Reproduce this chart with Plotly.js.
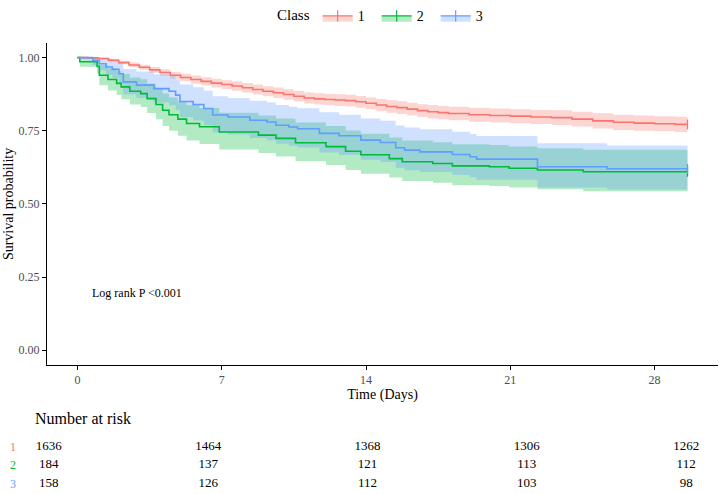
<!DOCTYPE html>
<html>
<head>
<meta charset="utf-8">
<script src="https://cdn.plot.ly/plotly-3.0.1.min.js"></script>
<style>html,body{margin:0;padding:0;background:#fff;}#chart{width:720px;height:494px;}</style>
</head>
<body>
<div id="chart"></div>
<script>
// ---- Data ----
const classNames = ['1', '2', '3'];
const colors = ['#F8766D', '#00BA38', '#619CFF'];
const fills = ['rgba(248,118,109,0.3)', 'rgba(0,186,56,0.3)', 'rgba(97,156,255,0.3)'];

// Class 1
const t1 = [0,0.5,1,1.5,2,2.5,3,3.5,4,4.5,5,5.5,6,6.5,7,7.5,8,8.5,9,9.5,10,10.5,11,11.5,12,12.5,13,13.5,14,14.5,15,15.5,16,16.5,17,17.5,18,19,20,21,22,23,24,25,26,27,28,29,29.6];
const s1 = [1.000,0.999,0.997,0.991,0.983,0.975,0.967,0.958,0.949,0.940,0.932,0.925,0.919,0.913,0.908,0.903,0.897,0.891,0.885,0.880,0.874,0.868,0.862,0.859,0.857,0.855,0.853,0.849,0.844,0.838,0.833,0.829,0.824,0.819,0.815,0.812,0.809,0.805,0.802,0.800,0.797,0.795,0.790,0.784,0.779,0.776,0.774,0.772,0.772];
const lo1 = [1.000,0.998,0.994,0.986,0.977,0.967,0.958,0.948,0.938,0.928,0.919,0.911,0.905,0.898,0.893,0.887,0.881,0.874,0.868,0.862,0.856,0.850,0.843,0.840,0.838,0.835,0.833,0.829,0.824,0.817,0.812,0.807,0.802,0.797,0.792,0.789,0.786,0.781,0.778,0.776,0.773,0.770,0.765,0.758,0.753,0.750,0.748,0.746,0.746];
const up1 = [1.000,1.000,1.000,0.996,0.989,0.983,0.976,0.968,0.960,0.952,0.945,0.939,0.933,0.928,0.923,0.919,0.913,0.908,0.902,0.898,0.892,0.887,0.881,0.878,0.876,0.875,0.873,0.869,0.864,0.859,0.854,0.851,0.846,0.841,0.838,0.835,0.832,0.829,0.826,0.824,0.821,0.820,0.815,0.810,0.805,0.802,0.800,0.798,0.798];

// Class 2
const t2 = [0,0.11,0.95,1.06,1.48,1.9,2.12,2.54,3.07,3.38,3.81,4.13,4.44,4.87,5.29,5.92,6.88,8.78,9.63,10.58,12.06,13.01,13.75,15.13,15.76,17.24,18.19,19.99,20.94,22.32,24.54,29.6];
const s2 = [1,0.986,0.97,0.94,0.925,0.912,0.9,0.885,0.877,0.86,0.84,0.82,0.805,0.79,0.775,0.764,0.746,0.735,0.724,0.709,0.696,0.68,0.668,0.655,0.644,0.638,0.63,0.627,0.622,0.616,0.61,0.61];
const lo2 = [1,0.969,0.946,0.906,0.888,0.872,0.858,0.840,0.831,0.811,0.789,0.766,0.750,0.733,0.717,0.705,0.686,0.674,0.662,0.646,0.633,0.616,0.603,0.590,0.578,0.572,0.564,0.561,0.556,0.550,0.543,0.543];
const up2 = [1,1,0.995,0.975,0.964,0.954,0.944,0.932,0.926,0.912,0.895,0.877,0.864,0.851,0.838,0.828,0.812,0.802,0.792,0.778,0.766,0.751,0.740,0.727,0.717,0.711,0.704,0.701,0.696,0.690,0.685,0.685];

// Class 3
const t3 = [0,0.74,1.06,1.38,1.69,2.01,2.22,2.86,3.7,4.44,4.76,4.97,5.61,6.13,6.56,7.3,8.36,9.2,9.63,10.26,10.68,11.74,12.69,13.75,14.7,15.44,15.87,16.61,18.19,19.04,19.36,22.32,25.7,29.6];
const s3 = [1,0.99,0.979,0.968,0.96,0.945,0.917,0.906,0.894,0.885,0.872,0.85,0.84,0.826,0.804,0.797,0.786,0.78,0.769,0.763,0.757,0.741,0.733,0.718,0.71,0.692,0.684,0.678,0.669,0.661,0.653,0.627,0.62,0.62];
const lo3 = [1,0.975,0.957,0.941,0.930,0.910,0.875,0.862,0.847,0.837,0.821,0.796,0.785,0.769,0.744,0.737,0.725,0.718,0.706,0.699,0.693,0.676,0.667,0.651,0.643,0.624,0.615,0.609,0.599,0.591,0.583,0.556,0.549,0.549];
const up3 = [1,1,1,0.996,0.991,0.981,0.961,0.953,0.943,0.936,0.926,0.908,0.899,0.887,0.868,0.862,0.853,0.847,0.838,0.832,0.827,0.813,0.805,0.792,0.784,0.768,0.761,0.755,0.747,0.739,0.732,0.707,0.700,0.700];

// Risk table
const riskTimes = [0, 7, 14, 21, 28];
const risk1 = [1636, 1464, 1368, 1306, 1262];
const risk2 = [184, 137, 121, 113, 112];
const risk3 = [158, 126, 112, 103, 98];

const xTicks = [0, 7, 14, 21, 28];
const yTicks = [0, 0.25, 0.5, 0.75, 1];
const yTickText = ['0.00', '0.25', '0.50', '0.75', '1.00'];
const pText = 'Log rank P <0.001';

// ---- Build ----
const serif = 'Liberation Serif, Times New Roman, serif';
const T = [t1, t2, t3], S = [s1, s2, s3], LO = [lo1, lo2, lo3], UP = [up1, up2, up3];
const traces = [];
for (let i = 0; i < 3; i++) {
  traces.push({x: T[i], y: UP[i], mode: 'lines', line: {width: 0, shape: 'hv'}, showlegend: false, hoverinfo: 'skip'});
  traces.push({x: T[i], y: LO[i], mode: 'lines', line: {width: 0, shape: 'hv'}, fill: 'tonexty', fillcolor: fills[i], showlegend: false, hoverinfo: 'skip'});
}
for (let i = 0; i < 3; i++) {
  traces.push({x: T[i], y: S[i], mode: 'lines', line: {color: colors[i], width: 1.6, shape: 'hv'}, showlegend: false, name: classNames[i]});
}
// censor marks at end of follow-up
traces.push({
  x: T.map(a => a[a.length - 1]), y: S.map(a => a[a.length - 1]), mode: 'markers',
  marker: {symbol: 'line-ns-open', size: 7, color: colors, line: {width: 1.3, color: colors}},
  showlegend: false, hoverinfo: 'skip'
});
// legend entries
for (let i = 0; i < 3; i++) {
  traces.push({x: [null], y: [null], name: classNames[i], mode: 'lines+markers', fill: 'toself', fillcolor: fills[i],
    line: {color: colors[i], width: 1.2}, marker: {symbol: 'line-ns-open', size: 8, color: colors[i], line: {width: 1.2, color: colors[i]}}});
}
// risk table
const riskRows = [risk1, risk2, risk3];
for (let i = 0; i < 3; i++) {
  traces.push({x: riskTimes, y: riskTimes.map(() => i + 1), text: riskRows[i].map(String), mode: 'text',
    textposition: 'middle center', textfont: {family: serif, size: 13, color: '#000'},
    xaxis: 'x2', yaxis: 'y2', showlegend: false, hoverinfo: 'skip'});
}

const W = 720, H = 494, ML = 10, MR = 2, MT = 40, MB = 0;
const pw = W - ML - MR, ph = H - MT - MB;
const px2fx = p => (p - ML) / pw;
const py2fy = p => (H - MB - p) / ph;

const layout = {
  width: W, height: H,
  margin: {l: ML, r: MR, t: MT, b: MB},
  paper_bgcolor: '#fff', plot_bgcolor: '#fff',
  font: {family: serif, color: '#000'},
  showlegend: true,
  legend: {orientation: 'h', traceorder: 'normal', x: px2fx(385), xanchor: 'center', y: 1 + (MT - 13) / ph, yanchor: 'middle',
    title: {text: 'Class', font: {size: 15, family: serif}}, font: {size: 14, family: serif},
    itemwidth: 30, entrywidth: 14, bgcolor: 'rgba(0,0,0,0)'},
  xaxis: {domain: [px2fx(47), 1], range: [-1.48, 31.08], tickvals: xTicks, ticktext: xTicks.map(String),
    showline: true, linecolor: '#000', linewidth: 1, ticks: 'outside', ticklen: 4, tickcolor: '#000',
    showgrid: false, zeroline: false, tickfont: {family: serif, size: 12, color: '#4D4D4D'},
    title: {text: 'Time (Days)', font: {family: serif, size: 14, color: '#000'}, standoff: 2}, anchor: 'y'},
  yaxis: {domain: [py2fy(364), 1], range: [-0.05, 1.05], tickvals: yTicks, ticktext: yTickText,
    showline: true, linecolor: '#000', linewidth: 1, ticks: 'outside', ticklen: 4, tickcolor: '#000',
    showgrid: false, zeroline: false, tickfont: {family: serif, size: 12, color: '#4D4D4D'},
    title: {text: 'Survival probability', font: {family: serif, size: 14, color: '#000'}, standoff: 1}, anchor: 'x'},
  xaxis2: {domain: [px2fx(17), 1], range: [-1.4, 29.4], visible: false, anchor: 'y2'},
  yaxis2: {domain: [py2fy(493.5), py2fy(436.5)], range: [3.5, 0.5], anchor: 'x2',
    tickvals: [1, 2, 3], ticktext: classNames.map((c, i) => '<span style="color:' + colors[i] + '">' + c + '</span>'),
    showline: false, ticks: '', showgrid: false, zeroline: false, tickfont: {family: serif, size: 12}},
  annotations: [
    {xref: 'x', yref: 'y', x: 0.6, y: 0.197, text: pText, showarrow: false, xanchor: 'left', yanchor: 'middle',
      font: {family: serif, size: 12, color: '#000'}},
    {xref: 'paper', yref: 'paper', x: px2fx(33), y: py2fy(418), text: 'Number at risk', showarrow: false,
      xanchor: 'left', yanchor: 'middle', font: {family: serif, size: 16, color: '#000'}}
  ]
};

Plotly.newPlot('chart', traces, layout, {displayModeBar: false, staticPlot: true});
</script>
</body>
</html>
